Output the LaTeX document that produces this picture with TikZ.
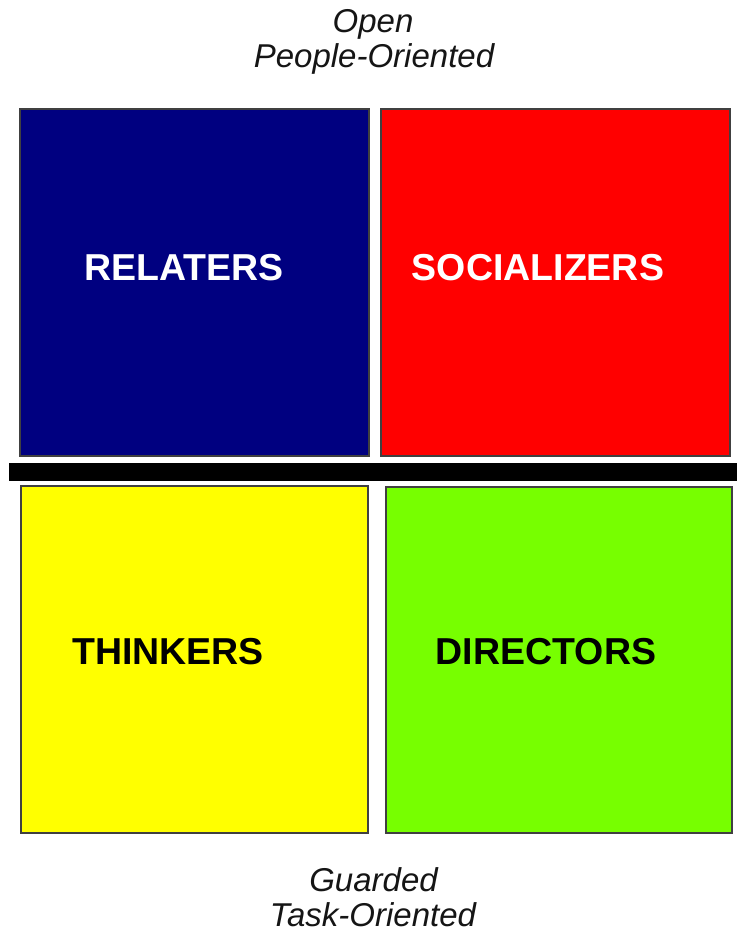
\documentclass[tikz,border=0pt]{standalone}
\usepackage{fontspec}
\setmainfont{Liberation Sans}
\definecolor{navyq}{HTML}{000080}
\definecolor{redq}{HTML}{FF0000}
\definecolor{yellowq}{HTML}{FFFF00}
\definecolor{greenq}{HTML}{77FF00}
\definecolor{capt}{HTML}{151515}
\definecolor{edgeq}{HTML}{404040}
\begin{document}
\begin{tikzpicture}[x=1pt,y=-1pt,
  quad/.style={draw=edgeq,line width=1.8pt},
  qlabel/.style={font=\fontsize{37.5}{40}\selectfont\bfseries},
  caption/.style={font=\fontsize{33}{38}\selectfont\itshape,text=capt,anchor=base,inner sep=0pt}]
\useasboundingbox (0,0) rectangle (737,933);
\fill[white] (0,0) rectangle (737,933);
\filldraw[quad,fill=navyq] (20,109) rectangle (369,456);
\filldraw[quad,fill=redq] (381,109) rectangle (730,456);
\filldraw[quad,fill=yellowq] (21,486) rectangle (368,833);
\filldraw[quad,fill=greenq] (386,487) rectangle (732,833);
\fill[black] (9,463) rectangle (737,481);
\node[qlabel,text=white] (rel) at (184,268) {RELATERS};
\node[qlabel,text=white] (soc) at (538,268) {SOCIALIZERS};
\node[qlabel,text=black] (thi) at (168,652) {THINKERS};
\node[qlabel,text=black] (dir) at (546,652) {DIRECTORS};
\node[caption] (top1) at (373,33) {Open};
\node[caption] (top2) at (374,68) {People-Oriented};
\node[caption] (bot1) at (373.5,891) {Guarded};
\node[caption] (bot2) at (373,926) {Task-Oriented};
\end{tikzpicture}
\end{document}
